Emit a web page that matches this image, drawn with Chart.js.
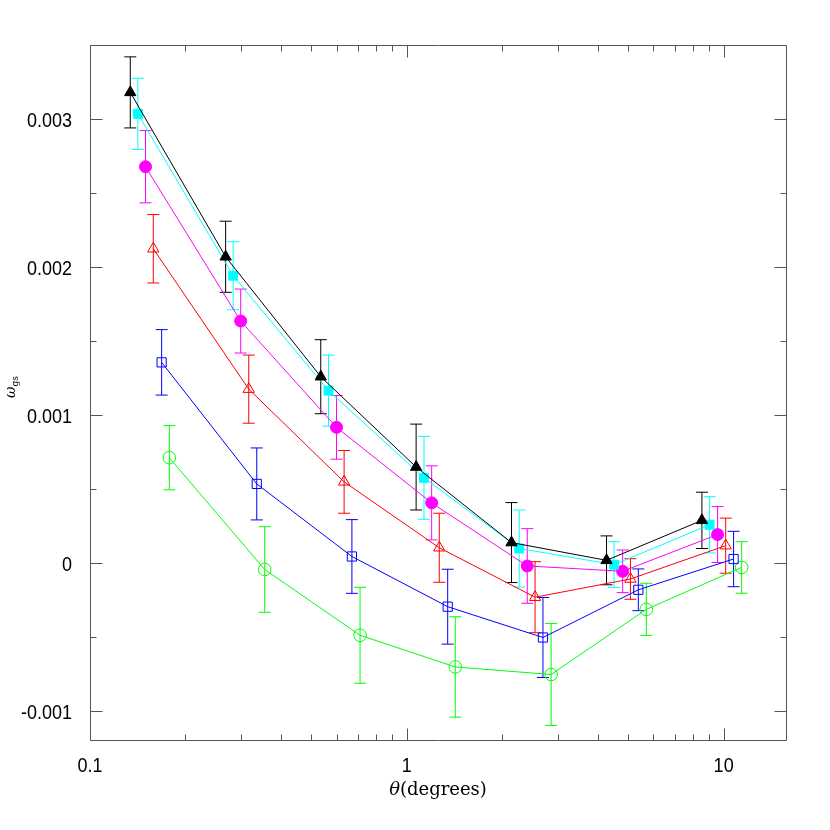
<!DOCTYPE html>
<html><head><meta charset="utf-8">
<script src="https://cdn.jsdelivr.net/npm/chart.js@4"></script>
<style>html,body{margin:0;padding:0;background:#fff}#wrap{width:830px;height:830px}</style>
</head><body><div id="wrap"><canvas id="c" width="830" height="830"></canvas></div>
<script>
// ---- tick labels ----
const xTicks = [0.1, 1, 10];
const xTickLabels = ['0.1', '1', '10'];
const yTicks = [-0.001, 0, 0.001, 0.002, 0.003];
const yTickLabels = ['-0.001', '0', '0.001', '0.002', '0.003'];

// ---- series (theta in degrees, omega, error) ----
const xBlack = [0.134, 0.268, 0.535, 1.07, 2.14, 4.27, 8.54];
const yBlack = [0.00318, 0.00207, 0.00126, 0.00065, 0.00014, 0.00002, 0.00029];
const eBlack = [0.00024, 0.00024, 0.00025, 0.00029, 0.00027, 0.000165, 0.00019];

const xCyan = [0.1416, 0.283, 0.566, 1.133, 2.264, 4.51, 9.03];
const yCyan = [0.003035, 0.001942, 0.001166, 0.000577, 0.000100, -0.000009, 0.000260];
const eCyan = [0.00024, 0.00023, 0.00024, 0.00028, 0.00026, 0.000155, 0.00019];

const xMagenta = [0.1497, 0.299, 0.600, 1.198, 2.40, 4.80, 9.57];
const yMagenta = [0.002678, 0.001636, 0.000918, 0.000408, -0.000018, -0.000054, 0.000194];
const eMagenta = [0.000244, 0.000216, 0.000215, 0.00025, 0.000252, 0.000144, 0.000189];

const xRed = [0.1584, 0.317, 0.634, 1.266, 2.54, 5.08, 10.15];
const yRed = [0.002124, 0.001176, 0.000550, 0.000105, -0.000229, -0.000106, 0.000119];
const eRed = [0.000231, 0.00023, 0.000212, 0.000233, 0.00024, 0.000137, 0.000186];

const xBlue = [0.1683, 0.336, 0.671, 1.346, 2.69, 5.38, 10.75];
const yBlue = [0.001357, 0.000536, 0.000046, -0.000293, -0.000501, -0.000179, 0.000029];
const eBlue = [0.000221, 0.000243, 0.000249, 0.000253, 0.00027, 0.000141, 0.000187];

const xGreen = [0.178, 0.356, 0.712, 1.422, 2.854, 5.70, 11.40];
const yGreen = [0.000713, -0.000042, -0.000486, -0.000700, -0.000751, -0.000311, -0.000028];
const eGreen = [0.000217, 0.000289, 0.000324, 0.000339, 0.000344, 0.000176, 0.000174];

const pts = (xs, ys) => xs.map((x, i) => ({x: x, y: ys[i]}));

function ds(xs, ys, es, color, style, filled, r) {
  return {
    data: pts(xs, ys), errors: es,
    borderColor: color, backgroundColor: color,
    pointBorderColor: color,
    pointBackgroundColor: filled ? color : 'rgba(0,0,0,0)',
    pointStyle: style, pointRadius: r, pointHoverRadius: r,
    pointBorderWidth: 1, borderWidth: 1, showLine: true, fill: false, tension: 0
  };
}

const errorBars = {
  id: 'errorBars',
  beforeDatasetsDraw(chart) {
    const ctx = chart.ctx, xs = chart.scales.x, ys = chart.scales.y;
    ctx.save();
    ctx.lineWidth = 1;
    chart.data.datasets.forEach(d => {
      ctx.strokeStyle = d.borderColor;
      d.data.forEach((p, i) => {
        const px = xs.getPixelForValue(p.x);
        const top = ys.getPixelForValue(p.y + d.errors[i]);
        const bot = ys.getPixelForValue(p.y - d.errors[i]);
        ctx.beginPath();
        ctx.moveTo(px, top); ctx.lineTo(px, bot);
        ctx.moveTo(px - 6, top); ctx.lineTo(px + 6, top);
        ctx.moveTo(px - 6, bot); ctx.lineTo(px + 6, bot);
        ctx.stroke();
      });
    });
    ctx.restore();
  }
};

const LABEL_FONT = '18px "Liberation Sans", Arial, sans-serif';
const STRETCH = 1.17;
function stretchedText(ctx, text, x, yc, align) {
  ctx.save();
  ctx.translate(x, yc);
  ctx.scale(1, STRETCH);
  ctx.font = LABEL_FONT;
  ctx.textAlign = align;
  ctx.textBaseline = 'alphabetic';
  ctx.fillText(text, 0, 0.716 * 18 / 2);
  ctx.restore();
}

const frame = {
  id: 'frame',
  afterDraw(chart) {
    const ctx = chart.ctx, a = chart.chartArea, xs = chart.scales.x, ys = chart.scales.y;
    const L = a.left + 0.5, R = a.right - 0.5, T = a.top + 0.5, B = a.bottom - 0.5;
    ctx.save();
    ctx.strokeStyle = '#555'; ctx.lineWidth = 1;
    ctx.beginPath();
    ctx.rect(L, T, R - L, B - T);
    // x ticks (log decades)
    for (const d of xTicks) {
      for (let k = 1; k <= 9; k++) {
        const v = k * d;
        if (v < xs.min || v > xs.max) continue;
        const px = Math.round(xs.getPixelForValue(v)) + 0.5;
        const len = k === 1 ? 12 : 6;
        ctx.moveTo(px, B); ctx.lineTo(px, B - len);
        ctx.moveTo(px, T); ctx.lineTo(px, T + len);
      }
    }
    // y ticks every 0.0005
    for (let j = -2; j <= 7; j++) {
      const v = j * 0.0005;
      if (v < ys.min - 1e-12 || v > ys.max + 1e-12) continue;
      const py = Math.round(ys.getPixelForValue(v)) + 0.5;
      const len = j % 2 === 0 ? 12 : 6;
      ctx.moveTo(L, py); ctx.lineTo(L + len, py);
      ctx.moveTo(R, py); ctx.lineTo(R - len, py);
    }
    ctx.stroke();

    // tick labels
    ctx.fillStyle = '#000';
    xTicks.forEach((v, i) => stretchedText(ctx, xTickLabels[i], xs.getPixelForValue(v), a.bottom + 23, 'center'));
    yTicks.forEach((v, i) => stretchedText(ctx, yTickLabels[i], a.left - 18, ys.getPixelForValue(v), 'right'));

    // axis titles
    ctx.textBaseline = 'alphabetic';
    ctx.textAlign = 'left';
    const f1 = 'italic 18px "DejaVu Serif"', f2 = '18px "DejaVu Serif"';
    ctx.font = f1; const w1 = ctx.measureText('θ').width;
    ctx.font = f2; const w2 = ctx.measureText('(degrees)').width;
    const cx = 438, by = 795;
    let x0 = cx - (w1 + w2) / 2;
    ctx.font = f1; ctx.fillText('θ', x0, by);
    ctx.font = f2; ctx.fillText('(degrees)', x0 + w1, by);

    ctx.translate(15, 387);
    ctx.rotate(-Math.PI / 2);
    ctx.font = 'italic 14px "DejaVu Serif"';
    const wo = ctx.measureText('ω').width;
    ctx.font = '9px "DejaVu Serif"';
    const ws = ctx.measureText('gs').width;
    const sx = -(wo + ws) / 2;
    ctx.font = 'italic 14px "DejaVu Serif"';
    ctx.fillText('ω', sx, 0);
    ctx.font = '9px "DejaVu Serif"';
    ctx.fillText('gs', sx + wo, 3);
    ctx.restore();
  }
};

new Chart(document.getElementById('c'), {
  type: 'line',
  data: {
    datasets: [
      ds(xBlack, yBlack, eBlack, '#000000', 'triangle', true, 6.5),
      ds(xCyan, yCyan, eCyan, '#00ffff', 'rect', true, 6.3),
      ds(xMagenta, yMagenta, eMagenta, '#ff00ff', 'circle', true, 6),
      ds(xRed, yRed, eRed, '#ff0000', 'triangle', false, 6.5),
      ds(xBlue, yBlue, eBlue, '#0000ff', 'rect', false, 6.5),
      ds(xGreen, yGreen, eGreen, '#00ff00', 'circle', false, 6.3)
    ]
  },
  options: {
    responsive: false, animation: false, devicePixelRatio: 1,
    layout: {padding: {left: 90, top: 45, right: 43, bottom: 89}},
    plugins: {legend: {display: false}, tooltip: {enabled: false}},
    scales: {
      x: {
        type: 'logarithmic', min: 0.1, max: 15.85, display: false,
        afterBuildTicks: s => { s.ticks = xTicks.map(v => ({value: v, major: true})); }
      },
      y: {
        type: 'linear', min: -0.0012, max: 0.0035, display: false,
        afterBuildTicks: s => { s.ticks = yTicks.map(v => ({value: v})); }
      }
    }
  },
  plugins: [errorBars, frame]
});
</script>
</body></html>
